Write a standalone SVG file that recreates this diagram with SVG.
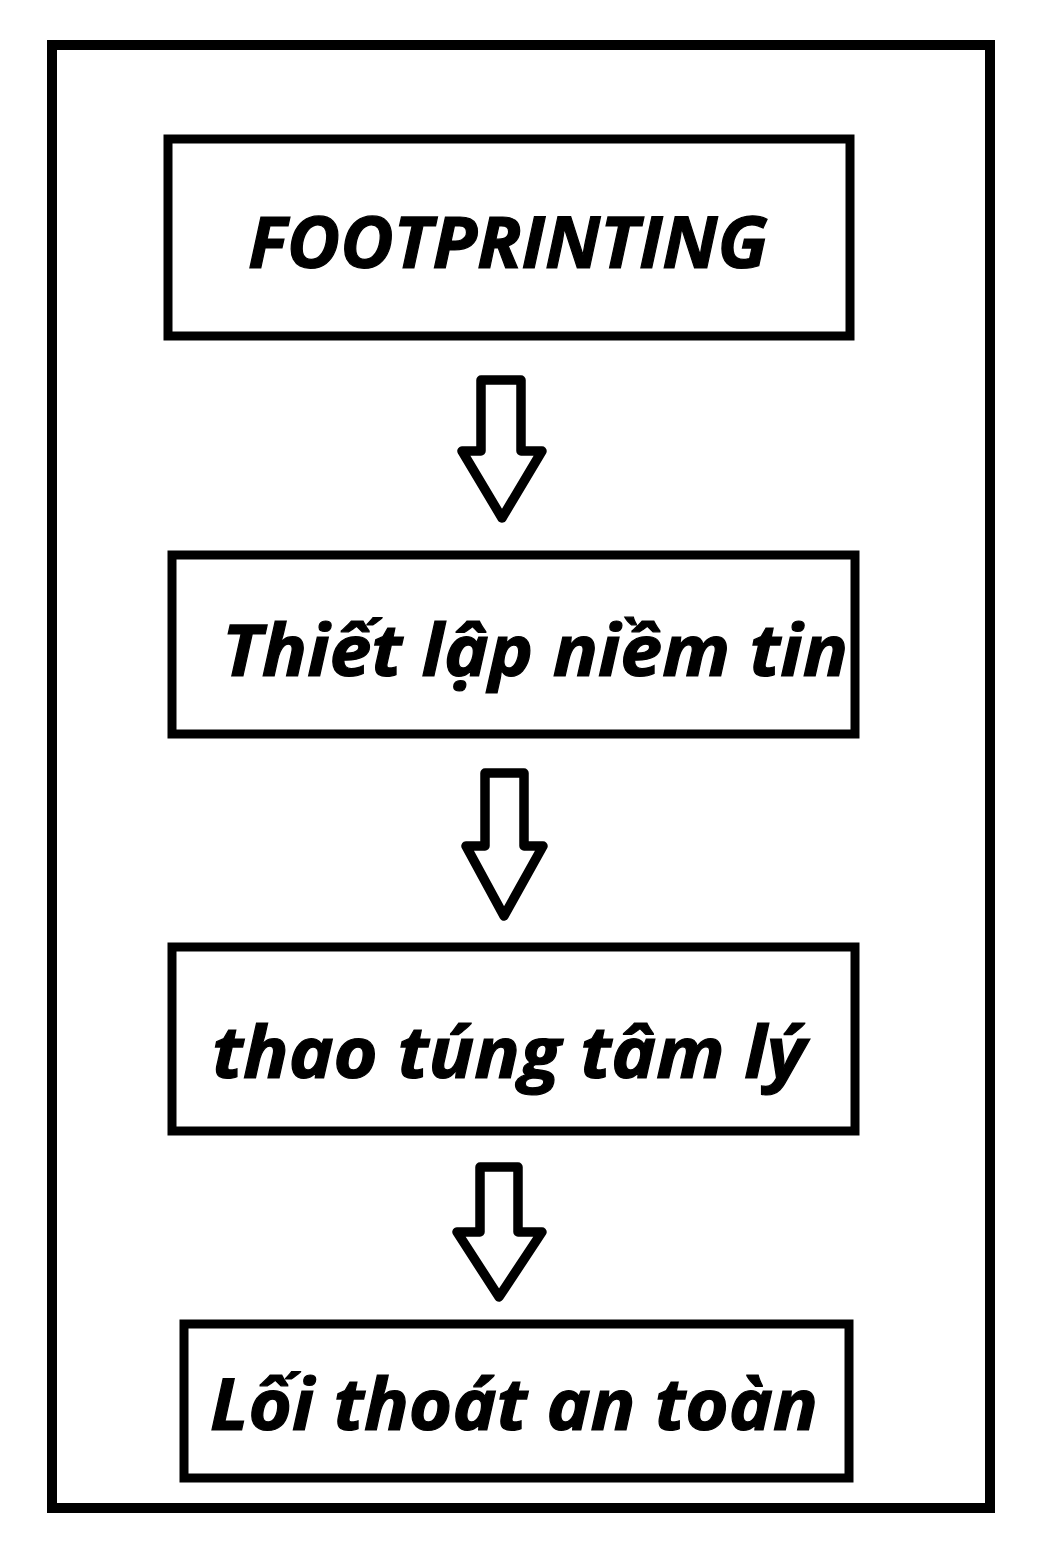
<svg xmlns="http://www.w3.org/2000/svg" width="1044" height="1565" viewBox="0 0 1044 1565">
<style>
.frame{fill:none;stroke:#000;stroke-width:10}
.box{fill:#fff;stroke:#000;stroke-width:9}
.arrow{fill:#fff;stroke:#000;stroke-width:9.5;stroke-linejoin:round}
.lbl{font-family:"Open Sans","Noto Sans","Liberation Sans",sans-serif;font-weight:700;font-style:italic;font-size:72px;fill:#000;stroke:#000;stroke-width:1.2}
</style>
<rect x="0" y="0" width="1044" height="1565" fill="#fff"/>
<rect class="frame" x="52" y="45" width="938" height="1463"/>
<g id="connectors">
<path class="arrow" d="M481,380 H521 V451 H542 L502,518 L462,451 H481 Z"/>
<path class="arrow" d="M485,773 H524 V846 H543 L504,916 L466,846 H485 Z"/>
<path class="arrow" d="M480,1167 H518 V1232 H542 L499,1297 L457,1232 H480 Z"/>
</g>
<g id="n1">
<rect class="box" x="168" y="139" width="682" height="197"/>
<text class="lbl" x="248" y="268" textLength="520" lengthAdjust="spacingAndGlyphs">FOOTPRINTING</text>
</g>
<g id="n2">
<rect class="box" x="172" y="555" width="683" height="179"/>
<text class="lbl" x="222" y="676" textLength="626" lengthAdjust="spacingAndGlyphs">Thiết lập niềm tin</text>
</g>
<g id="n3">
<rect class="box" x="172" y="947" width="683" height="184"/>
<text class="lbl" x="212" y="1078" textLength="594" lengthAdjust="spacingAndGlyphs">thao túng tâm lý</text>
</g>
<g id="n4">
<rect class="box" x="184" y="1324" width="665" height="154"/>
<text class="lbl" x="210" y="1430" textLength="608" lengthAdjust="spacingAndGlyphs">Lối thoát an toàn</text>
</g>
</svg>
